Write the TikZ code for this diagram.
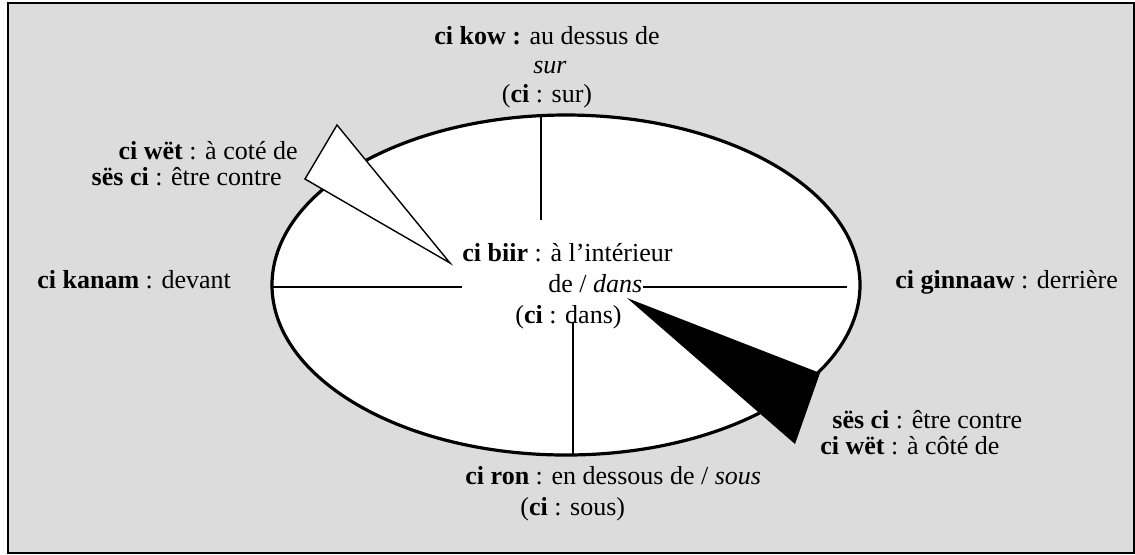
\documentclass[tikz,border=0pt]{standalone}
\usepackage{fontspec}
\setmainfont{Liberation Serif}
\definecolor{panelgray}{RGB}{220,220,220}
\begin{document}
\begin{tikzpicture}[x=0.5pt,y=-0.5pt,
  font=\fontsize{13}{15}\selectfont,
  lbl/.style={inner sep=0pt, anchor=base},
  lblw/.style={inner sep=0pt, anchor=base west},
  lble/.style={inner sep=0pt, anchor=base east},
  frame/.style={draw=black, line width=1pt, fill=panelgray},
  oval/.style={draw=black, line width=1.6pt, fill=white},
  axisline/.style={draw=black, line width=0.9pt},
  wedgewhite/.style={draw=black, line width=0.7pt, fill=white, line join=miter},
  wedgeblack/.style={fill=black}]
\useasboundingbox (0,0) rectangle (1135,554);
\fill[white] (0,0) rectangle (1135,554);
\path[frame] (7.5,3) rectangle (1134,553);
\path[oval] (566,285) ellipse [x radius=147pt, y radius=85pt];
% axis end points
\coordinate (topA) at (541,115);
\coordinate (topB) at (541,220);
\coordinate (leftA) at (272,287);
\coordinate (leftB) at (462,287);
\coordinate (rightA) at (643,287);
\coordinate (rightB) at (847,287);
\coordinate (botA) at (573,322);
\coordinate (botB) at (573,455);
% labels
\node[lbl] (kow1) at (547,44) {\textbf{ci kow :} au dessus de};
\node[lbl] (kow2) at (550,73) {\textit{sur}};
\node[lbl] (kow3) at (547,102) {(\textbf{ci} : sur)};
\node[lble] (wet1) at (298,159) {\textbf{ci wët} : à coté de};
\node[lble] (ses1) at (282,185) {\textbf{sës ci} : être contre};
\node[lblw] (kanam) at (37,288) {\textbf{ci kanam} : devant};
\node[lblw] (biir1) at (462,261) {\textbf{ci biir} : à l’intérieur};
\node[lblw] (biir2) at (548,292) {de / \textit{dans}};
\node[lblw] (biir3) at (515,323) {(\textbf{ci} : dans)};
\node[lblw] (ginn) at (895,288) {\textbf{ci ginnaaw} : derrière};
\node[lblw] (ses2) at (832,428) {\textbf{sës ci} : être contre};
\node[lblw] (wet2) at (820,454) {\textbf{ci wët} : à côté de};
\node[lblw] (ron1) at (465,484) {\textbf{ci ron} : en dessous de / \textit{sous}};
\node[lblw] (ron2) at (520,515) {(\textbf{ci} : sous)};
% axes
\draw[axisline] (topA) -- (topB);
\draw[axisline] (leftA) -- (leftB);
\draw[axisline] (rightA) -- (rightB);
\draw[axisline] (botA) -- (botB);
% wedges
\path[wedgewhite] (450,263) -- (337,125) -- (305,179) -- cycle;
\path[wedgeblack] (627,298) -- (820,373) -- (795,444) -- cycle;
\end{tikzpicture}
\end{document}
